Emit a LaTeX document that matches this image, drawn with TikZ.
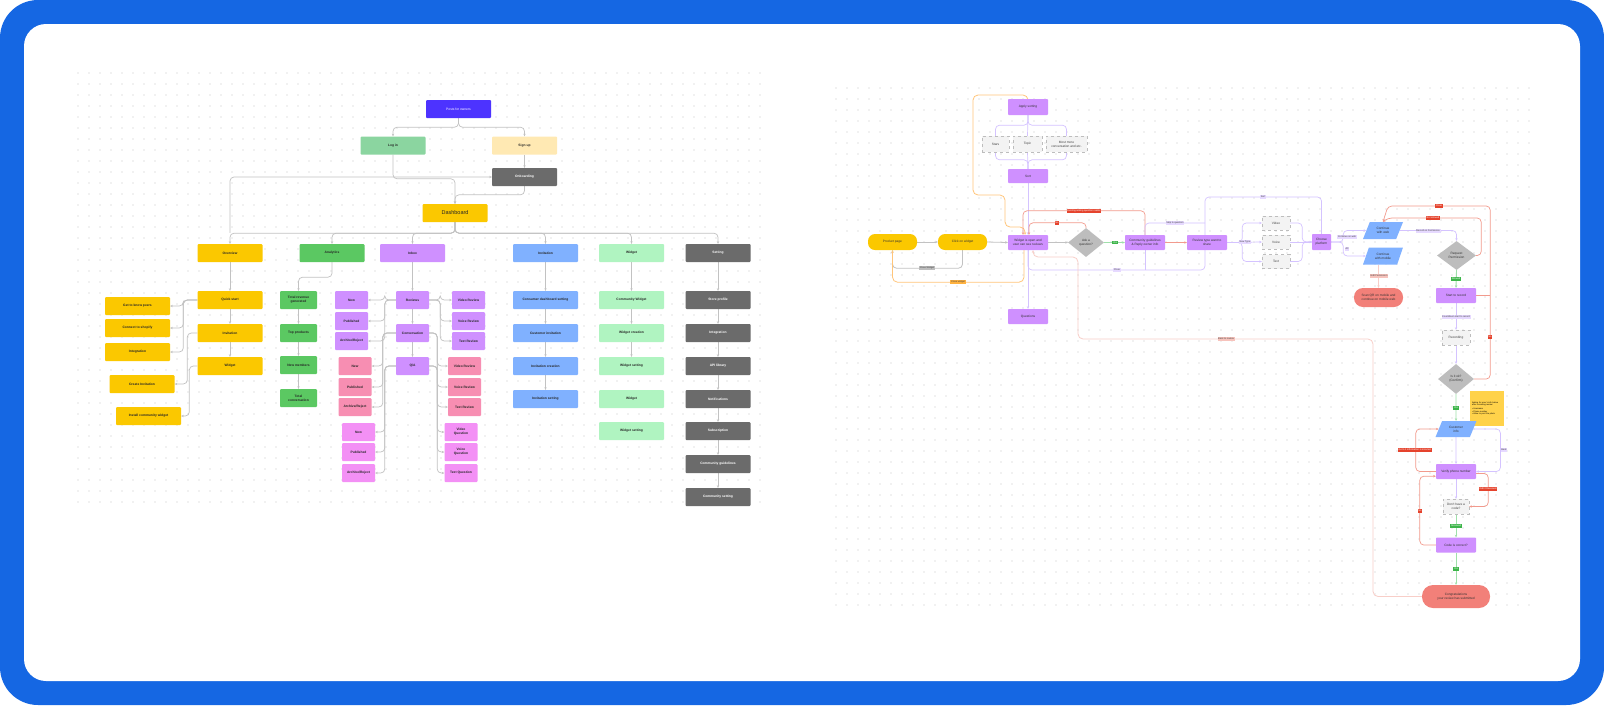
\documentclass[tikz,border=0pt]{standalone}
\usepackage{fontspec}
\setmainfont{Liberation Sans}
\usetikzlibrary{arrows.meta,shapes.geometric,calc}
\definecolor{frame}{HTML}{1567E3}
\definecolor{dotc}{HTML}{C4C4C4}
\definecolor{postblue}{HTML}{4D33FF}
\definecolor{lgreen}{HTML}{8BD5A0}
\definecolor{lyellow}{HTML}{FFE9B3}
\definecolor{dgray}{HTML}{6B6B6B}
\definecolor{yel}{HTML}{FBC800}
\definecolor{grn}{HTML}{5BC862}
\definecolor{purp}{HTML}{CF90FF}
\definecolor{blu}{HTML}{80B1FF}
\definecolor{mint}{HTML}{B0F4C1}
\definecolor{pnk}{HTML}{F78EB2}
\definecolor{mag}{HTML}{F390F5}
\definecolor{salm}{HTML}{F28079}
\definecolor{dfill}{HTML}{F3F3F3}
\definecolor{ddraw}{HTML}{BDBDBD}
\definecolor{diag}{HTML}{BDBDBD}
\definecolor{sticky}{HTML}{FFD24A}
\definecolor{lineg}{HTML}{C2C2C2}
\definecolor{lavl}{HTML}{D4C3FF}
\definecolor{lavt}{HTML}{E6D9FF}
\definecolor{redl}{HTML}{F29A8D}
\definecolor{redt}{HTML}{E5432D}
\definecolor{grnl}{HTML}{9FE0AA}
\definecolor{grnt}{HTML}{3DB54A}
\definecolor{orl}{HTML}{FFC57A}
\definecolor{ort}{HTML}{FFB23F}
\definecolor{pkl}{HTML}{F8CEC8}
\definecolor{pkt}{HTML}{F7C3BC}
\newcommand\fsl{\fontsize{3.3}{4}\selectfont}
\newcommand\fsr{\fontsize{3.2}{3.9}\selectfont}
\newcommand\fst{\fontsize{2.4}{2.9}\selectfont}
\pgfdeclarelayer{back}
\pgfdeclarelayer{bg}
\pgfsetlayers{back,bg,main}
\tikzset{
  lbox/.style={rectangle, rounded corners=1pt, minimum width=65pt, minimum height=18pt, inner sep=0pt, align=center, font=\fsl\bfseries, text=black!85},
  sbox/.style={lbox, minimum width=33pt},
  abox/.style={lbox, minimum width=37pt},
  wtext/.style={text=white},
  rbox/.style={rectangle, rounded corners=0.8pt, minimum width=40pt, minimum height=15pt, inner sep=0pt, align=center, font=\fsr, text=black!80, fill=purp},
  dbox/.style={rectangle, minimum width=28pt, minimum height=15pt, inner sep=0pt, align=center, font=\fsr, text=black!75, fill=dfill, draw=ddraw, dashed, line width=0.4pt},
  dia/.style={diamond, minimum width=36pt, minimum height=29pt, inner sep=0pt, align=center, font=\fsr, text=black!80, fill=diag},
  para/.style={trapezium, trapezium left angle=62, trapezium right angle=118, trapezium stretches=true, minimum width=40pt, minimum height=17pt, inner sep=0pt, align=center, font=\fsr, text=black!80, fill=blu},
  pill/.style={rectangle, rounded corners=7pt, minimum width=49pt, minimum height=16pt, inner sep=0pt, align=center, font=\fsr, text=black!80, fill=yel},
  conn/.style={draw=lineg, line width=0.7pt, rounded corners=4pt, ->},
  lav/.style={draw=lavl, line width=0.7pt, rounded corners=4pt},
  redp/.style={draw=redl, line width=0.7pt, rounded corners=4pt},
  grnp/.style={draw=grnl, line width=0.9pt, rounded corners=4pt},
  orp/.style={draw=orl, line width=0.8pt, rounded corners=5pt},
  pkp/.style={draw=pkl, line width=0.8pt, rounded corners=5pt},
  grp/.style={draw=lineg, line width=0.8pt, rounded corners=4pt},
  tag/.style={rectangle, inner sep=0.7pt, font=\fst, text=black!75},
}
\begin{document}
\begin{tikzpicture}[x=1pt,y=-1pt,>={Stealth[length=2.6pt,width=2.4pt]}]
\useasboundingbox (0,0) rectangle (1604,705);
\begin{pgfonlayer}{back}
\fill[white] (0,0) rectangle (1604,705);
\fill[frame, rounded corners=38pt] (0,0) rectangle (1604,705);
\fill[white, rounded corners=22pt] (24,24) rectangle (1580,681);
\foreach \x in {78,89,...,760} \foreach \y in {73,84,...,505} \fill[dotc] (\x,\y) circle (0.6);
\foreach \x in {836,847,...,1532} \foreach \y in {88,99,...,612} \fill[dotc] (\x,\y) circle (0.6);
\end{pgfonlayer}

% ================= LEFT SITEMAP =================
\node[lbox, fill=postblue, wtext, font=\fsl] (posts) at (458.5,109) {Posts for owners};
\node[lbox, fill=lgreen] (login) at (393,145.5) {Log in};
\node[lbox, fill=lyellow] (signup) at (524.5,145.5) {Sign up};
\node[lbox, fill=dgray, wtext] (onb) at (524.5,177) {Onboarding};
\node[lbox, fill=yel, font=\fontsize{5.5}{6}\selectfont] (dash) at (455,213) {Dashboard};

\node[lbox, fill=yel] (ov) at (230,253) {Overview};
\node[lbox, fill=grn] (an) at (332,253) {Analytics};
\node[lbox, fill=purp] (inb) at (412.5,253) {Inbox};
\node[lbox, fill=blu] (inv) at (545.5,253) {Invitation};
\node[lbox, fill=mint] (wid) at (631.5,253) {Widget};
\node[lbox, fill=dgray, wtext] (set) at (718,253) {Setting};

\node[lbox, fill=yel] (qs) at (230,300) {Quick start};
\node[lbox, fill=yel] (ovinv) at (230,333) {Invitation};
\node[lbox, fill=yel] (ovwid) at (230,366) {Widget};
\node[lbox, fill=yel] (gk) at (137.5,306) {Get to know peers};
\node[lbox, fill=yel] (cs) at (137.5,328) {Connect to shopify};
\node[lbox, fill=yel] (integ) at (137.5,352) {Integration};
\node[lbox, fill=yel] (ci) at (142,384) {Create Invitation};
\node[lbox, fill=yel] (icw) at (148.5,416) {Install community widget};

\node[abox, fill=grn] (tr) at (298.5,300) {Total revenue\\generated};
\node[abox, fill=grn] (tp) at (298.5,333) {Top products};
\node[abox, fill=grn] (nm) at (298.5,365) {New members};
\node[abox, fill=grn] (tc) at (298.5,398) {Total\\conversation};

\node[sbox, fill=purp] (rev) at (412.5,300) {Reviews};
\node[sbox, fill=purp] (conv) at (412.5,333) {Conversation};
\node[sbox, fill=purp] (qa) at (412.5,366) {Q/A};
\node[sbox, fill=purp] (rn) at (351.5,300) {New};
\node[sbox, fill=purp] (rp) at (351.5,321) {Published};
\node[sbox, fill=purp] (ra) at (351.5,341) {Archive/Reject};
\node[sbox, fill=pnk] (cn) at (355,366) {New};
\node[sbox, fill=pnk] (cp) at (355,387) {Published};
\node[sbox, fill=pnk] (ca) at (355,407) {Archive/Reject};
\node[sbox, fill=mag] (qn) at (358.5,432) {New};
\node[sbox, fill=mag] (qp) at (358.5,452) {Published};
\node[sbox, fill=mag] (qar) at (358.5,473) {Archive/Reject};
\node[sbox, fill=purp] (rvv) at (468.5,300) {Video Review};
\node[sbox, fill=purp] (rvo) at (468.5,321) {Voice Review};
\node[sbox, fill=purp] (rvt) at (468.5,341) {Text Review};
\node[sbox, fill=pnk] (cvv) at (464.5,366) {Video Review};
\node[sbox, fill=pnk] (cvo) at (464.5,387) {Voice Review};
\node[sbox, fill=pnk] (cvt) at (464.5,407) {Text Review};
\node[sbox, fill=mag] (qvv) at (461,432) {Video\\Question};
\node[sbox, fill=mag] (qvo) at (461,452) {Voice\\Question};
\node[sbox, fill=mag] (qvt) at (461,473) {Text Question};

\node[lbox, fill=blu] (i1) at (545.5,300) {Consumer dashboard setting};
\node[lbox, fill=blu] (i2) at (545.5,333) {Customer invitation};
\node[lbox, fill=blu] (i3) at (545.5,366) {Invitation creation};
\node[lbox, fill=blu] (i4) at (545.5,399) {Invitation setting};

\node[lbox, fill=mint] (w1) at (631.5,300) {Community Widget};
\node[lbox, fill=mint] (w2) at (631.5,333) {Widget creation};
\node[lbox, fill=mint] (w3) at (631.5,366) {Widget setting};
\node[lbox, fill=mint] (w4) at (631.5,399) {Widget};
\node[lbox, fill=mint] (w5) at (631.5,431) {Widget setting};

\node[lbox, fill=dgray, wtext] (s1) at (718,300) {Store profile};
\node[lbox, fill=dgray, wtext] (s2) at (718,333) {Integration};
\node[lbox, fill=dgray, wtext] (s3) at (718,366) {API library};
\node[lbox, fill=dgray, wtext] (s4) at (718,399) {Notifications};
\node[lbox, fill=dgray, wtext] (s5) at (718,431) {Subscription};
\node[lbox, fill=dgray, wtext] (s6) at (718,464) {Community guidelines};
\node[lbox, fill=dgray, wtext] (s7) at (718,497) {Community setting};

\begin{pgfonlayer}{bg}
\draw[conn] (posts.south) -- ++(0,9) -| (login.north);
\draw[conn] (posts.south) -- ++(0,9) -| (signup.north);
\draw[conn] (signup.south) -- (onb.north);
\draw[conn] (login.south) |- ($(dash.north)+(0,-25)$) -- (dash.north);
\draw[conn] (onb.south) |- ($(dash.north)+(0,-9)$) -- (dash.north);
\draw[conn] ($(ov.north)+(0,-11)$) |- (onb.west);
\foreach \c in {ov,an,inb,inv,wid,set} \draw[conn] (dash.south) -- ++(0,11) -| (\c.north);
\draw[conn] (ov.south) -- (qs.north);
\draw[conn] (qs.south) -- (ovinv.north);
\draw[conn] (ovinv.south) -- (ovwid.north);
\foreach \c in {gk,cs,integ} \draw[conn] (qs.west) -- ++(-14,0) |- (\c.east);
\draw[conn] (ovinv.west) -- ++(-10,0) |- (ci.east);
\draw[conn] (ovwid.west) -- ++(-8,0) |- (icw.east);
\draw[conn] (an.south) -- ++(0,15) -| (tr.north);
\draw[conn] (tr.south) -- (tp.north);
\draw[conn] (tp.south) -- (nm.north);
\draw[conn] (nm.south) -- (tc.north);
\draw[conn] (inb.south) -- (rev.north);
\draw[conn] (rev.south) -- (conv.north);
\draw[conn] (conv.south) -- (qa.north);
\foreach \c in {rn,rp,ra} \draw[conn] (rev.west) -- ++(-11,0) |- (\c.east);
\foreach \c in {rvv,rvo,rvt} \draw[conn] (rev.east) -- ++(11,0) |- (\c.west);
\foreach \c in {cn,cp,ca} \draw[conn] (conv.west) -- ++(-13,0) |- (\c.east);
\foreach \c in {cvv,cvo,cvt} \draw[conn] (conv.east) -- ++(8,0) |- (\c.west);
\foreach \c in {qn,qp,qar} \draw[conn] (qa.west) -- ++(-11,0) |- (\c.east);
\foreach \c in {qvv,qvo,qvt} \draw[conn] (qa.east) -- ++(8,0) |- (\c.west);
\draw[conn] (inv.south) -- (i1.north);
\draw[conn] (i1.south) -- (i2.north);
\draw[conn] (i2.south) -- (i3.north);
\draw[conn] (i3.south) -- (i4.north);
\draw[conn] (wid.south) -- (w1.north);
\draw[conn] (w1.south) -- (w2.north);
\draw[conn] (w2.south) -- (w3.north);
\draw[conn] (set.south) -- (s1.north);
\draw[conn] (s1.south) -- (s2.north);
\draw[conn] (s2.south) -- (s3.north);
\draw[conn] (s3.south) -- (s4.north);
\draw[conn] (s4.south) -- (s5.north);
\draw[conn] (s5.south) -- (s6.north);
\draw[conn] (s6.south) -- (s7.north);
\end{pgfonlayer}

% ================= RIGHT FLOW =================
\node[rbox, minimum height=16pt] (sortapply) at (1028,107) {Apply sorting};
\node[dbox, minimum width=27pt, minimum height=16pt] (stars) at (995.5,144) {Stars};
\node[dbox, minimum width=29pt, minimum height=16pt] (topic) at (1027.5,144) {Topic};
\node[dbox, minimum width=41pt, minimum height=16pt] (most) at (1066.5,144) {Most more\\conversation and etc.};
\node[rbox, minimum height=14pt] (sort) at (1028,176) {Sort};
\node[pill] (pp) at (892.5,242) {Product page};
\node[pill] (cow) at (962.5,242) {Click on widget};
\node[rbox] (wo) at (1028,242.5) {Widget is open and\\user can see reviews};
\node[dia] (ask) at (1086,242.5) {Ask a\\question?};
\node[rbox] (cg) at (1145,242.5) {Community guidelines\\\& Reply owner info};
\node[rbox] (rt) at (1207,242.5) {Review type want to\\share};
\node[dbox, minimum height=14pt] (vid) at (1276,223) {Video};
\node[dbox, minimum height=14pt] (voi) at (1276,242) {Voice};
\node[dbox, minimum height=14pt] (txt) at (1276,261.5) {Text};
\node[rbox, minimum width=19pt, minimum height=16pt] (chp) at (1321.5,242) {Choose\\platform};
\node[para] (cweb) at (1383,230.5) {Continue\\with web};
\node[para] (cmob) at (1383,256) {Continue\\with mobile};
\node[dia, minimum width=39pt] (req) at (1456.5,255.5) {Request\\Permission};
\node[pill, fill=salm, minimum height=19pt, rounded corners=9pt] (scan) at (1378.5,297.5) {Scan QR on mobile and\\continue on mobile web};
\node[rbox] (str) at (1456,295.5) {Start to record};
\node[dbox] (rec) at (1456,337.5) {Recording};
\node[dia, minimum height=30pt] (ok) at (1456,379) {Is it ok?\\(Confirm)};
\node[rectangle, fill=sticky, minimum width=34pt, minimum height=35pt, text width=30pt, inner sep=1.5pt, align=left, font=\fontsize{2.1}{2.7}\selectfont] (note) at (1487,408.5) {Asking for user's info below after recording review:\\[1pt] \textbullet\ Username\\ \textbullet\ Phone number\\ \textbullet\ Allow to post the photo};
\node[para, minimum width=41pt, minimum height=16pt] (cinfo) at (1456,429) {Customer\\info};
\node[rbox] (ver) at (1456,471.5) {Verify phone number};
\node[dbox, minimum width=26pt] (dhc) at (1456,506.5) {Don't have a\\code?};
\node[rbox] (cc) at (1456,545) {Code is correct?};
\node[pill, fill=salm, minimum width=68pt, minimum height=23pt, rounded corners=11pt] (congr) at (1456,596.5) {Congratulations\\your review has submitted};
\node[rbox] (ques) at (1028,316.5) {Questions};

\begin{pgfonlayer}{bg}
\draw[lav] (sortapply.south) -- ++(0,10) -| (stars.north);
\draw[lav] (sortapply.south) -- ++(0,10) -| (most.north);
\draw[lav] (sortapply.south) -- (topic.north);
\draw[lav] (stars.south) |- ($(sort.north)+(0,-9)$) -- (sort.north);
\draw[lav] (most.south) |- ($(sort.north)+(0,-9)$) -- (sort.north);
\draw[lav] (topic.south) -- (sort.north);
\draw[lav,->] (sort.south) -- (wo.north);
\draw[lav,->] (wo.south) -- (ques.north);
\draw[orp,->] (sortapply.north) |- (973,95) -- (973,195) -- (1005,195) -- (1005,227) -| ($(wo.north)+(-3,0)$);
\draw[grp,->] (pp.east) -- (cow.west);
\draw[grp,->] (cow.east) -- (wo.west);
\draw[grp,->] (wo.east) -- (ask.west);
\draw[grp,->] (cow.south) -- ++(0,18) -| (pp.south);
\draw[orp,->] ($(wo.south)+(-4,0)$) -- ++(0,32) -| (pp.south);
\draw[grnp,->] (ask.east) -- (cg.west);
\draw[redp,->] (cg.east) -- (rt.west);
\draw[redp,->] (ask.north) -- ++(0,-5) -| ($(wo.north)+(1,0)$);
\draw[redp,->] (cg.north) -- ++(0,-24) -| ($(wo.north)+(-5,0)$);
\draw[lav] (chp.north) |- (1205,197) -- (1205,270) -- (1028,270) -- (wo.south);
\draw[lav] (cg.north) -- (1145,223) -- (1205,223);
\draw[lav] (cg.south) -- (1145,270);
\draw[pkp,->] (congr.west) -| (1373,339) -| (1078,257) -| ($(wo.south)+(5,0)$);
\draw[lav,->] (rt.east) -- (voi.west);
\draw[lav,->] (rt.east) -- ++(15,0) |- (vid.west);
\draw[lav,->] (rt.east) -- ++(15,0) |- (txt.west);
\draw[lav,->] (voi.east) -- (chp.west);
\draw[lav] (vid.east) -- ++(12,0) |- (chp.west);
\draw[lav] (txt.east) -- ++(12,0) |- (chp.west);
\draw[lav,->] (chp.east) -- ++(12,0) |- (cweb.west);
\draw[lav,->] (chp.east) -- ++(12,0) |- (cmob.west);
\draw[lav,->] (cweb.east) -| (req.north);
\draw[redp,->] (req.east) -- ++(5,0) |- (1388,218) -- (cweb.north);
\draw[redp,->] (ok.east) -- ++(16,0) |- (1388,206) -- (cweb.north);
\draw[redp] (str.east) -- ++(14,0);
\draw[grnp,->] (req.south) -- (str.north);
\draw[pkp,->] (scan.north |- cmob.south) -- (scan.north);
\draw[lav,->] (str.south) -- (rec.north);
\draw[lav,->] (rec.south) -- (ok.north);
\draw[grnp,->] (ok.south) -- (cinfo.north);
\draw[lav,->] (cinfo.south) -- (ver.north);
\draw[redp,->] (ver.west) -- ++(-20,0) |- (cinfo.west);
\draw[lav,->] (cinfo.east) -- ++(27,0) |- (ver.east);
\draw[lav,->] (ver.south) -- (dhc.north);
\draw[redp,->] ($(ver.east)+(0,2)$) -- ++(12,0) |- (dhc.east);
\draw[grnp,->] (dhc.south) -- (cc.north);
\draw[redp,->] (cc.west) -- ++(-16,0) |- ($(ver.south west)+(0,-3)$);
\draw[grnp,->] (cc.south) -- (congr.north);
\end{pgfonlayer}

\node[tag, fill=ddraw] (t1) at (927,268) {Close Widget};
\node[tag, fill=ort] (t2) at (958,282) {Close widget};
\node[tag, fill=grnt, text=white] (t3) at (1115,242.5) {Yes};
\node[tag, fill=redt, text=white] (t4) at (1057,223) {No};
\node[tag, fill=redt, text=white] (t5) at (1084,211) {Existing asking question reader};
\node[tag, fill=lavt] (t6) at (1117,270) {Close};
\node[tag, fill=lavt] (t7) at (1175,223) {Skip to question};
\node[tag, fill=lavt] (t8) at (1263,197) {Sort};
\node[tag, fill=lavt] (t9) at (1245,242) {New Type};
\node[tag, fill=pkt] (t10) at (1226,339) {Back to review};
\node[tag, fill=lavt] (t11) at (1347,237) {Continue on web};
\node[tag, fill=lavt] (t12) at (1347,249) {All};
\node[tag, fill=lavt] (t13) at (1428,231) {Record on Permission};
\node[tag, fill=redt, text=white] (t14) at (1433,218) {Not allowed};
\node[tag, fill=redt, text=white] (t15) at (1439,206) {Close};
\node[tag, fill=redt, text=white] (t16) at (1490,337) {No};
\node[tag, fill=grnt, text=white] (t17) at (1456,279) {Allowed};
\node[tag, fill=pkt] (t18) at (1379,276) {Edit Permission};
\node[tag, fill=lavt] (t19) at (1456,317) {Countdown start to record};
\node[tag, fill=grnt, text=white] (t20) at (1456,408) {Yes};
\node[tag, fill=redt, text=white] (t21) at (1415,450) {Go to 1 information is incorrect};
\node[tag, fill=lavt] (t22) at (1504,450) {Back};
\node[tag, fill=redt, text=white] (t23) at (1488,489) {Didn't Received};
\node[tag, fill=grnt, text=white] (t24) at (1456,526) {Received};
\node[tag, fill=redt, text=white] (t25) at (1420,511) {No};
\node[tag, fill=grnt, text=white] (t26) at (1456,569) {Yes};
\end{tikzpicture}
\end{document}
